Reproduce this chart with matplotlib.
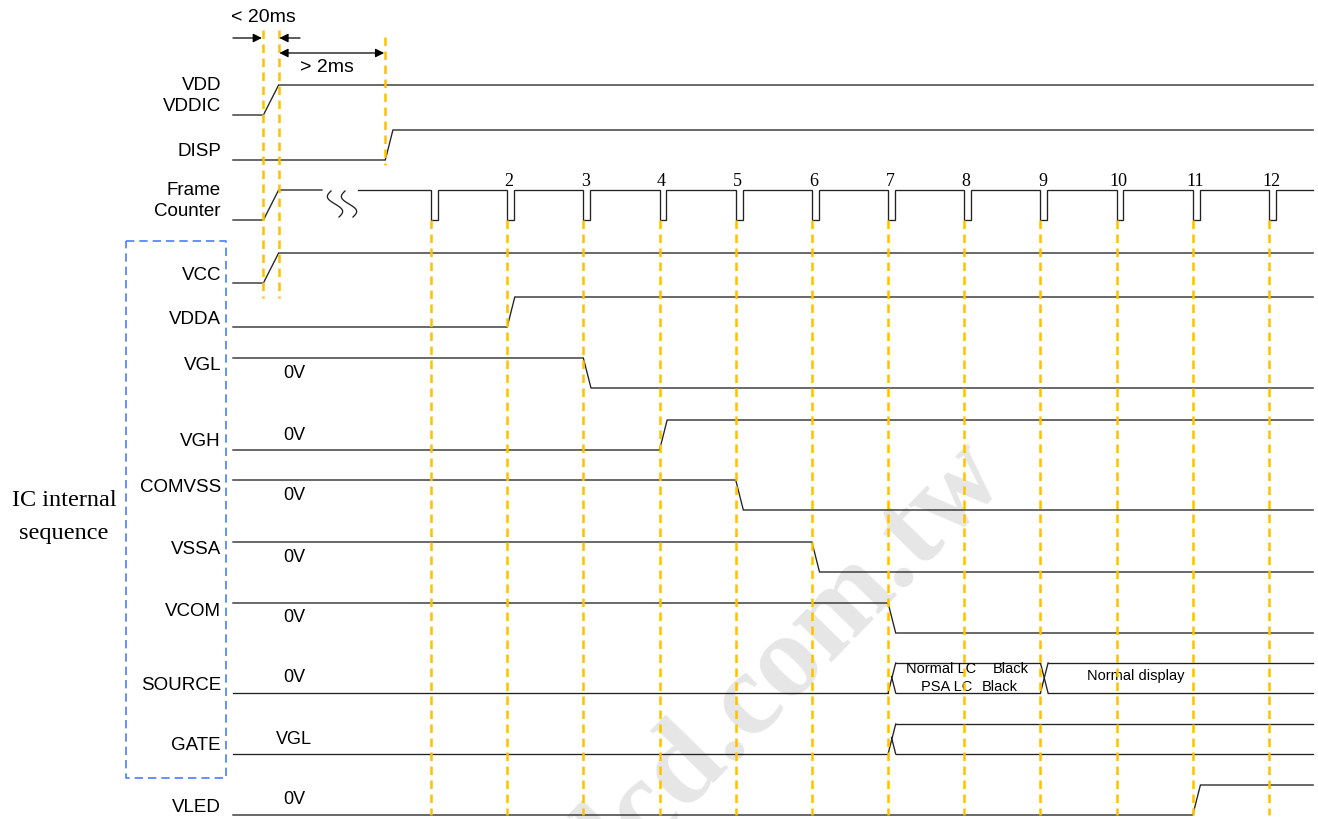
import numpy as np
import matplotlib.pyplot as plt

# sequence steps: frame numbers at the yellow marks
frames = [1, 2, 3, 4, 5, 6, 7, 8, 9, 10, 11, 12]
frame_labels = ["", "2", "3", "4", "5", "6", "7", "8", "9", "10", "11", "12"]

# signals, level before switching (1 = high) and switch time (in frames)
signals = ["VDD\nVDDIC", "DISP", "Frame\nCounter", "VCC", "VDDA", "VGL", "VGH",
           "COMVSS", "VSSA", "VCOM", "SOURCE", "GATE", "VLED"]
start_high = [0, 0, 0, 0, 0, 1, 0, 1, 1, 1, 0, 0, 0]
switch_at = [-1.2, 0.4, -1.2, -1.2, 2, 3, 4, 5, 6, 7, 7, 7, 11]
rest_text = ["", "", "", "", "", "0V", "0V", "0V", "0V", "0V", "0V", "VGL", "0V"]

# SOURCE bus after frame 7
source_edges = [7, 9]
source_text = ["Normal LC", "PSA LC", "Black", "Black", "Normal display"]

power_on = -1.2
power_ready = -1.0
disp_on = 0.4
t_start = -1.6
t_end = 12.58

# ---- layout (pixel based) ----
W, H = 1318, 819
X1, DX = 431, 76.18


def fx(px):
    return 1 + (px - X1) / DX


row_low = [115, 160, 220, 283, 327, 388, 450, 510, 572, 633, 693, 754, 815]
swing = 30
ramp = 0.1
pulse_w = 0.09
brk_a, brk_b = fx(322), fx(358)

LINE = "#222222"
YEL = "#FFC000"
SANS = "Liberation Sans"
SERIF = "Liberation Serif"

fig = plt.figure(figsize=(W / 100, H / 100), dpi=100)
ax = fig.add_axes([0, 0, 1, 1])
ax.set_xlim(fx(0), fx(W))
ax.set_ylim(H, 0)
ax.axis("off")

# watermark
ax.text(fx(816), 676, "lcd.com.tw", rotation=45.7, rotation_mode="anchor",
        ha="center", va="baseline", fontsize=86, family=SERIF,
        fontweight="bold", color="#e6e6e6", zorder=0)


def line(xs, ys):
    ax.plot(xs, ys, color=LINE, lw=0.95, zorder=2, solid_joinstyle="miter")


for i, name in enumerate(signals):
    lo = row_low[i]
    hi = lo - swing
    y0 = hi if start_high[i] else lo
    y1 = lo if start_high[i] else hi
    s = switch_at[i]
    r = power_ready - power_on if s == power_on else ramp

    if name.startswith("Frame"):
        line([t_start, s, s + r, brk_a], [y0, y0, y1, y1])
        xs, ys = [brk_b], [hi]
        for f in frames:
            xs += [f, f, f + pulse_w, f + pulse_w]
            ys += [hi, lo, lo, hi]
        line(xs + [t_end], ys + [hi])
        # break mark
        t = np.linspace(0, 1, 40)
        for xc in (fx(331), fx(345)):
            line(xc + (-5.5 * np.sin(2 * np.pi * t) + 8 * t) / DX, 191 + 26 * t)
    elif name in ("SOURCE", "GATE"):
        e0 = source_edges[0] if name == "SOURCE" else s
        line([t_start, e0], [lo, lo])
        line([e0, e0 + r], [lo, hi])
        line([e0 + 0.45 * r, e0 + r], [hi + 0.45 * swing, lo])
        if name == "SOURCE":
            prev = e0 + r
            for e in source_edges[1:]:
                line([prev, e], [hi, hi])
                line([prev, e], [lo, lo])
                line([e, e + r], [hi, lo])
                line([e, e + r], [lo, hi])
                prev = e + r
            line([prev, t_end], [hi, hi])
            line([prev, t_end], [lo, lo])
        else:
            line([e0 + r, t_end], [hi, hi])
            line([e0 + r, t_end], [lo, lo])
    else:
        line([t_start, s, s + r, t_end], [y0, y0, y1, y1])

    # labels
    if "\n" in name:
        ly = lo - 19
    elif start_high[i]:
        ly = hi + 8
    else:
        ly = lo - 8
    ax.text(fx(221), ly, name, ha="right", va="center", fontsize=13.5,
            family=SANS, linespacing=1.35)
    if rest_text[i]:
        ax.text(fx(294), lo - swing / 2, rest_text[i], ha="center",
                va="center", fontsize=13, family=SANS)

# SOURCE bus contents
src_pos = [(fx(941), 669), (fx(947), 687), (fx(1011), 669), (fx(1000), 687),
           (fx(1136), 676)]
for txt, (x, y) in zip(source_text, src_pos):
    ax.text(x, y, txt, ha="center", va="center", fontsize=10.5, family=SANS)

# frame numbers and yellow marks
dash = (0, (3.4, 2.2))
for f, lab in zip(frames, frame_labels):
    ax.plot([f, f], [row_low[2], 815], color=YEL, lw=1.8, ls=dash, zorder=3)
    if lab:
        ax.text(f + 2 / DX, 181, lab, ha="center", va="center",
                fontsize=13, family=SERIF)
for t in (power_on, power_ready):
    ax.plot([t, t], [30, 298], color=YEL, lw=1.8, ls=dash, zorder=3)
ax.plot([disp_on, disp_on], [37, 165], color=YEL, lw=1.8, ls=dash, zorder=3)

# timing annotations
arw = dict(arrowstyle="-|>", color="black", lw=0.9, mutation_scale=13,
           shrinkA=0, shrinkB=0)
ax.annotate("", xy=(power_on - 0.02, 38), xytext=(t_start, 38), arrowprops=arw)
ax.annotate("", xy=(power_ready + 0.01, 38), xytext=(fx(300), 38), arrowprops=arw)
ax.annotate("", xy=(disp_on - 0.015, 53), xytext=(power_ready + 0.01, 53),
            arrowprops=dict(arw, arrowstyle="<|-|>"))
ax.text(fx(231), 18, "< 20ms", ha="left", va="center", fontsize=14, family=SANS)
ax.text(fx(300), 68, "> 2ms", ha="left", va="center", fontsize=14, family=SANS)

# IC internal group
bx = [fx(126), fx(226), fx(226), fx(126), fx(126)]
by = [241, 241, 778, 778, 241]
ax.plot(bx, by, color="#4a7dff", lw=1.2, ls=(0, (5, 3)), zorder=2)
ax.text(fx(64), 500, "IC internal", ha="center", va="center", fontsize=17.5,
        family=SERIF)
ax.text(fx(64), 533, "sequence", ha="center", va="center", fontsize=17.5,
        family=SERIF)

fig.savefig("out.png", dpi=100)
